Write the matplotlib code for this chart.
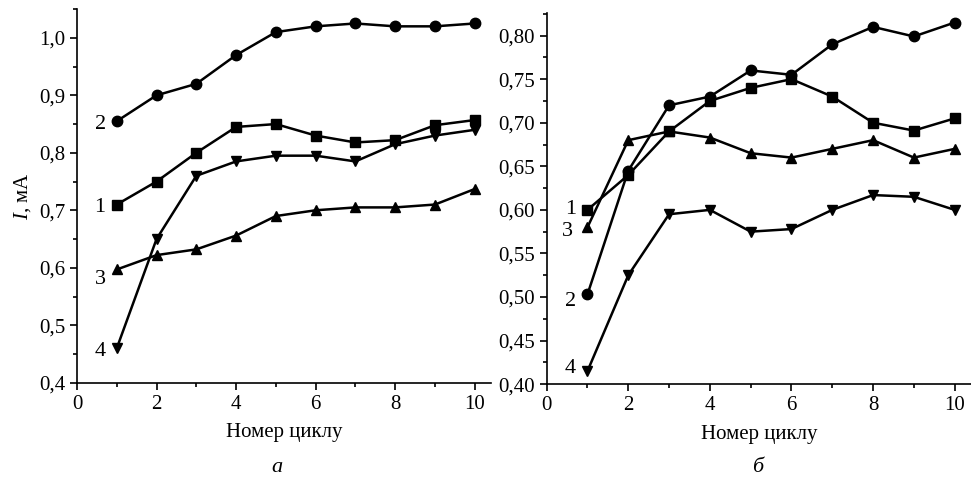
import numpy as np
import matplotlib.pyplot as plt
from matplotlib.ticker import MultipleLocator, FuncFormatter

plt.rcParams['font.family'] = ['Liberation Serif', 'DejaVu Serif']
plt.rcParams['mathtext.fontset'] = 'custom'
plt.rcParams['mathtext.it'] = 'Liberation Serif:italic'
plt.rcParams['mathtext.rm'] = 'Liberation Serif'

cycles = np.arange(1, 11)

# panel a
a_1 = [0.71, 0.75, 0.80, 0.845, 0.85, 0.83, 0.818, 0.822, 0.848, 0.857]
a_2 = [0.855, 0.90, 0.92, 0.97, 1.01, 1.02, 1.025, 1.02, 1.02, 1.025]
a_3 = [0.597, 0.622, 0.632, 0.656, 0.69, 0.70, 0.705, 0.705, 0.71, 0.737]
a_4 = [0.46, 0.65, 0.76, 0.785, 0.795, 0.795, 0.785, 0.815, 0.83, 0.84]

# panel b
b_1 = [0.60, 0.64, 0.69, 0.725, 0.74, 0.75, 0.73, 0.70, 0.691, 0.705]
b_2 = [0.503, 0.645, 0.72, 0.73, 0.76, 0.755, 0.79, 0.81, 0.799, 0.815]
b_3 = [0.58, 0.68, 0.69, 0.683, 0.665, 0.66, 0.67, 0.68, 0.66, 0.67]
b_4 = [0.415, 0.525, 0.595, 0.60, 0.575, 0.578, 0.60, 0.617, 0.615, 0.60]

markers = ['s', 'o', '^', 'v']
names = ['1', '2', '3', '4']

fig = plt.figure(figsize=(9.71, 4.79), dpi=100)
ax1 = fig.add_axes([0.0793, 0.201, 0.426, 0.780])
ax2 = fig.add_axes([0.563, 0.198, 0.437, 0.775])


def style(ax, ylim, major, minor, ndec):
    for s in ['top', 'right']:
        ax.spines[s].set_visible(False)
    ax.spines['left'].set_linewidth(1.2)
    ax.spines['bottom'].set_linewidth(1.2)
    ax.set_xlim(0, 10.4)
    ax.set_ylim(*ylim)
    ax.xaxis.set_major_locator(MultipleLocator(2))
    ax.xaxis.set_minor_locator(MultipleLocator(1))
    ax.yaxis.set_major_locator(MultipleLocator(major))
    ax.yaxis.set_minor_locator(MultipleLocator(minor))
    ax.yaxis.set_major_formatter(FuncFormatter(lambda v, p: f'{v:.{ndec}f}'.replace('.', ',')))
    ax.tick_params(which='major', direction='out', length=5, width=1.2, labelsize=15)
    ax.tick_params(which='minor', direction='out', length=3, width=1.2)
    ax.set_xlabel('Номер циклу', fontsize=15, labelpad=7)


for ys, m in zip([a_1, a_2, a_3, a_4], markers):
    ax1.plot(cycles, ys, '-', color='black', marker=m, markersize=7.5, linewidth=1.8)
for ys, m in zip([b_1, b_2, b_3, b_4], markers):
    ax2.plot(cycles, ys, '-', color='black', marker=m, markersize=7.5, linewidth=1.8)

style(ax1, (0.4, 1.05), 0.1, 0.05, 1)
style(ax2, (0.4, 0.826), 0.05, 0.025, 2)
ax1.set_ylabel('$I$, мА', fontsize=15, labelpad=4)

lab_a = [(0.72, 0.705), (0.72, 0.85), (0.72, 0.58), (0.72, 0.455)]
lab_b = [(0.72, 0.60), (0.72, 0.495), (0.65, 0.575), (0.72, 0.418)]
for n, (x, y) in zip(names, lab_a):
    ax1.text(x, y, n, fontsize=16, ha='right', va='center')
for n, (x, y) in zip(names, lab_b):
    ax2.text(x, y, n, fontsize=16, ha='right', va='center')

fig.text(0.285, 0.015, 'а', fontsize=16, style='italic', ha='center')
fig.text(0.78, 0.015, 'б', fontsize=16, style='italic', ha='center')

fig.savefig('out.png', dpi=100)
